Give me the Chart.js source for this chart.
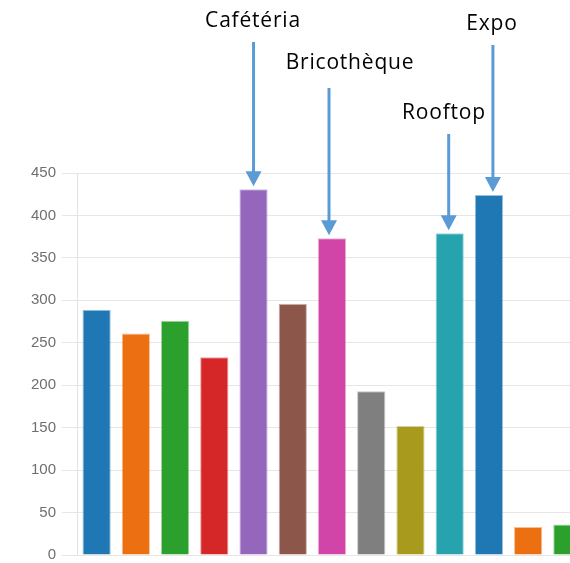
<!DOCTYPE html>
<html>
<head>
<meta charset="utf-8">
<script src="https://cdn.jsdelivr.net/npm/chart.js@4"></script>
<style>
  html, body { margin: 0; padding: 0; background: #fff; overflow: hidden; }
  #wrap { width: 600px; height: 563px; }
</style>
</head>
<body>
<div id="wrap"><canvas id="barChart" width="600" height="563"></canvas></div>
<script>
// data
const categories = ['1', '2', '3', '4', 'Cafétéria', '6', 'Bricothèque', '8', '9', 'Rooftop', 'Expo', '12', '13']
const values = [289, 261, 276, 233, 431, 296, 373, 193, 152, 379, 424, 33, 36]
const barColors = ['#1f77b4', '#ec7011', '#2ca02c', '#d62728', '#9467bd', '#8c564b', '#d145a8',
                   '#7f7f7f', '#a79a1d', '#27a3ae', '#1f77b4', '#ec7011', '#2ca02c']
const yTicks = [0, 50, 100, 150, 200, 250, 300, 350, 400, 450]
const callouts = ['Cafétéria', 'Bricothèque', 'Rooftop', 'Expo']

// where each callout text / arrow start sits (pixels), and small x nudge from bar centre
const calloutLayout = {
    'Cafétéria':   { textX: 253, textY: 27,  startY: 42,  dx: 0 },
    'Bricothèque': { textX: 350, textY: 69,  startY: 88,  dx: -3 },
    'Rooftop':     { textX: 444, textY: 119, startY: 134, dx: -1 },
    'Expo':        { textX: 492, textY: 30,  startY: 45,  dx: 4 }
}

function lighter(hex, a) {
    const n = parseInt(hex.slice(1), 16)
    const r = (n >> 16) & 255, g = (n >> 8) & 255, b = n & 255
    return 'rgba(' + r + ',' + g + ',' + b + ',' + a + ')'
}

const arrowPlugin = {
    id: 'arrows',
    afterDraw(chart) {
        const ctx = chart.ctx
        const bars = chart.getDatasetMeta(0).data
        ctx.save()
        callouts.forEach(function (name) {
            const i = categories.indexOf(name)
            const lay = calloutLayout[name]
            const bar = bars[i]
            const x = bar.x + lay.dx
            const tip = bar.y - 3
            ctx.fillStyle = '#000'
            ctx.font = '21px "Open Sans", "Noto Sans", sans-serif'
            ctx.letterSpacing = '0.8px'
            ctx.textAlign = 'center'
            ctx.textBaseline = 'alphabetic'
            ctx.fillText(name, lay.textX, lay.textY)
            ctx.strokeStyle = '#5b9bd5'
            ctx.fillStyle = '#5b9bd5'
            ctx.lineWidth = 3
            ctx.beginPath()
            ctx.moveTo(x, lay.startY)
            ctx.lineTo(x, tip - 13)
            ctx.stroke()
            ctx.beginPath()
            ctx.moveTo(x - 8, tip - 15)
            ctx.lineTo(x + 8, tip - 15)
            ctx.lineTo(x, tip)
            ctx.closePath()
            ctx.fill()
        })
        ctx.restore()
    }
}

const ctx = document.getElementById('barChart').getContext('2d')
const myChart = new Chart(ctx, {
    type: 'bar',
    data: {
        labels: categories,
        datasets: [{
            data: values,
            backgroundColor: barColors,
            borderColor: barColors.map(function (c) { return lighter(c, 0.45) }),
            borderWidth: 1,
            barPercentage: 0.9,
            categoryPercentage: 0.8
        }]
    },
    options: {
        responsive: false,
        animation: false,
        layout: { padding: { top: 173, right: 13, bottom: 8, left: 0 } },
        plugins: { legend: { display: false }, tooltip: { enabled: false } },
        scales: {
            x: { display: false },
            y: {
                min: 0,
                max: 450,
                afterFit: function (s) {
                    s.width = 77
                    s.paddingTop = 0
                    s.paddingBottom = 0
                },
                afterBuildTicks: function (s) { s.ticks = yTicks.map(function (v) { return { value: v } }) },
                border: { color: '#e2e2e2' },
                grid: { color: '#e6e6e6', tickLength: 15 },
                ticks: {
                    color: '#6f6f6f',
                    padding: 6,
                    font: { family: '"Liberation Sans", Arial, sans-serif', size: 15 }
                }
            }
        }
    },
    plugins: [arrowPlugin]
})
</script>
</body>
</html>
